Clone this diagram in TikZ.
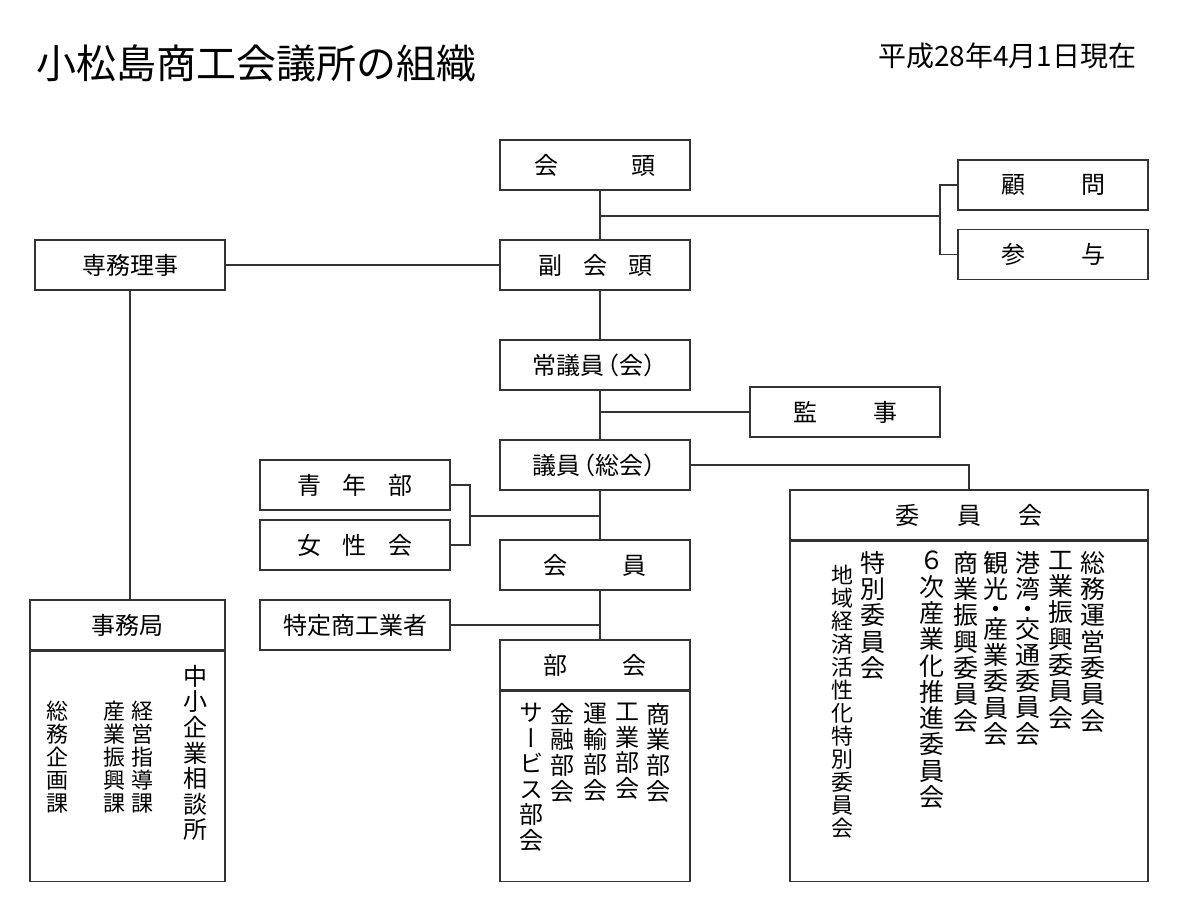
\documentclass[tikz,border=0pt]{standalone}
\usepackage{fontspec}
\newfontfamily\jp{Noto Sans CJK JP}
\newfontfamily\jptate[RawFeature=+vert]{Noto Sans CJK JP}
\definecolor{orgline}{HTML}{333333}

\begin{document}
\begin{tikzpicture}[x=1pt,y=-1pt,
	box/.style={draw=orgline, line width=1.3pt, minimum width=190pt, minimum height=50pt, inner sep=0pt, font=\jp\fontsize{24}{26}\selectfont},
	body/.style={draw=orgline, line width=1.3pt, minimum width=190pt, inner sep=0pt},
	link/.style={draw=orgline, line width=1.3pt},
	tate/.style={anchor=north, align=center, inner sep=0pt, font=\jptate\fontsize{24}{25.6}\selectfont},
	tatebig/.style={tate, font=\jptate\fontsize{25}{26.3}\selectfont},
	tatesmall/.style={tate, font=\jptate\fontsize{22}{23}\selectfont}]
	\useasboundingbox (0,0) rectangle (1200,900);
	
	% title
	\node[anchor=west, inner sep=0pt, font=\jp\fontsize{40}{44}\selectfont] (title) at (36,63) {小松島商工会議所の組織};
	\node[anchor=west, inner sep=0pt, font=\jp\fontsize{28}{30}\selectfont] (date) at (878,56) {平成28年4月1日現在};
	
	% boxes
	\node[box] (kaito) at (595,165) {会\hspace{73pt}頭};
	\node[box] (komon) at (1053,185) {顧\hspace{56pt}問};
	\node[box] (sanyo) at (1053,254.5) {参\hspace{56pt}与};
	\node[box] (senmu) at (130,265) {専務理事};
	\node[box] (fukukaito) at (595,265) {副\hspace{21pt}会\hspace{21pt}頭};
	\node[box] (jogiin) at (595,365) {常議員\kern-9pt（会）\kern-9pt};
	\node[box] (kanji) at (845,412) {監\hspace{56pt}事};
	\node[box] (giin) at (595,465) {議員\kern-9pt（総会）\kern-9pt};
	\node[box] (seinen) at (355,485) {青\hspace{22pt}年\hspace{22pt}部};
	\node[box] (josei) at (355,545) {女\hspace{22pt}性\hspace{22pt}会};
	\node[box] (kaiin) at (595,565) {会\hspace{56pt}員};
	\node[box] (tokutei) at (355,625) {特定商工業者};
	\node[box] (bukai) at (595,665) {部\hspace{55pt}会};
	\node[body, minimum height=190pt, anchor=north] (bukaibody) at (bukai.south) {};
	\node[box, minimum width=358pt] (iinkai) at (969,515) {委\hspace{38pt}員\hspace{38pt}会};
	\node[body, minimum width=358pt, minimum height=340pt, anchor=north] (iinkaibody) at (iinkai.south) {};
	\node[box, minimum width=195pt] (jimu) at (127.5,625) {事務局};
	\node[body, minimum width=195pt, minimum height=230pt, anchor=north] (jimubody) at (jimu.south) {};
	
	% junctions
	\coordinate (topj) at (600,216);
	\coordinate (brk) at (940,216);
	\coordinate (kanjij) at (600,412);
	\coordinate (bulj) at (470,516);
	\coordinate (bukj) at (600,516);
	\coordinate (tokj) at (600,625);
	
	% connectors
	\draw[link] ([xshift=5pt]kaito.south) -- ([xshift=5pt]fukukaito.north);
	\draw[link] (topj) -- (brk);
	\draw[link] (komon.west) -| (brk);
	\draw[link] (sanyo.west) -| (brk);
	\draw[link] (senmu.east) -- (fukukaito.west);
	\draw[link] (senmu.south) -- (senmu.south |- jimu.north);
	\draw[link] ([xshift=5pt]fukukaito.south) -- ([xshift=5pt]jogiin.north);
	\draw[link] ([xshift=5pt]jogiin.south) -- ([xshift=5pt]giin.north);
	\draw[link] (kanji.west) -- (kanjij);
	\draw[link] (giin.east) -| (iinkai.north);
	\draw[link] ([xshift=5pt]giin.south) -- ([xshift=5pt]kaiin.north);
	\draw[link] (seinen.east) -| (bulj);
	\draw[link] (josei.east) -| (bulj);
	\draw[link] (bulj) -- (bukj);
	\draw[link] ([xshift=5pt]kaiin.south) -- ([xshift=5pt]bukai.north);
	\draw[link] (tokutei.east) -- (tokj);
	
	% bukai
	\node[tate] (shogyo) at (658,703) {商\\業\\部\\会};
	\node[tate] (kogyo) at (627,703) {工\\業\\部\\会};
	\node[tate] (unyu) at (595,703) {運\\輸\\部\\会};
	\node[tate] (kinyu) at (562,703) {金\\融\\部\\会};
	\node[tate] (service) at (531,703) {サ\\ー\\ビ\\ス\\部\\会};
	
	% jimukyoku
	\node[tate] (sodan) at (195,665) {中\\小\\企\\業\\相\\談\\所};
	\node[tatesmall] (keiei) at (142.5,701) {経\\営\\指\\導\\課};
	\node[tatesmall] (sangyo) at (114,701) {産\\業\\振\\興\\課};
	\node[tatesmall] (somu) at (57.5,701) {総\\務\\企\\画\\課};
	
	% iinkai
	\node[tatebig] (somuunei) at (1093,551) {総\\務\\運\\営\\委\\員\\会};
	\node[tatebig] (kogyoshinko) at (1061,551) {工\\業\\振\\興\\委\\員\\会};
	\node[tatebig] (kowan) at (1028,551) {港\\湾\\[-6.5pt]・\\[-6.5pt]交\\通\\委\\員\\会};
	\node[tatebig] (kanko) at (996,551) {観\\光\\[-6.5pt]・\\[-6.5pt]産\\業\\委\\員\\会};
	\node[tatebig] (shogyoshinko) at (966,551) {商\\業\\振\\興\\委\\員\\会};
	\node[tatebig] (rokuji) at (932,551) {６\\次\\産\\業\\化\\推\\進\\委\\員\\会};
	\node[tatebig] (tokubetsu) at (873,551) {特\\別\\委\\員\\会};
	\node[tatesmall] (chiiki) at (842,565) {地\\域\\経\\済\\活\\性\\化\\特\\別\\委\\員\\会};
\end{tikzpicture}
\end{document}
